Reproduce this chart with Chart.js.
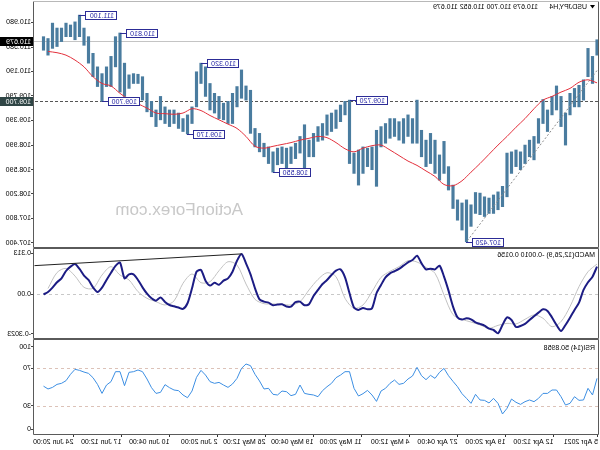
<!DOCTYPE html>
<html><head><meta charset="utf-8">
<script src="https://cdn.jsdelivr.net/npm/chart.js@4.4.1/dist/chart.umd.min.js"></script>
<style>
html,body{margin:0;padding:0;background:#fff;}
#wrap{position:relative;width:600px;height:450px;transform:scaleX(-1);overflow:hidden;background:#fff;}
#wrap canvas{position:absolute;left:0;}
</style></head><body>
<div id="wrap">
<canvas id="cPrice" width="600" height="248" style="top:0px"></canvas>
<canvas id="cMacd" width="600" height="91" style="top:248px"></canvas>
<canvas id="cRsi" width="600" height="111" style="top:339px"></canvas>
</div>
<script>
// ---------- data ----------
const symbolName = 'USDJPY,H4';
const symbolQuote = '110.679 110.700 110.652 110.679';
const macdTitle = 'MACD(12,26,9) -0.0010 0.0156';
const rsiTitle = 'RSI(14) 50.8958';
const watermarkText = 'ActionForex.com';

const timeLabels = ['5 Apr 2021','12 Apr 12:00','19 Apr 20:00','27 Apr 04:00','4 May 12:00','11 May 20:00','19 May 04:00','26 May 12:00','2 Jun 20:00','10 Jun 04:00','17 Jun 12:00','24 Jun 20:00'];
const timeTickBars = [3.34,33,65,97,129,161,193,225,257,289,321,353];

const barStart = 4, barStep = 3;   // each sample covers three 4-hour bars

const priceHigh = [110.70,110.43,110.56,110.05,109.96,109.91,109.83,109.51,109.78,109.95,
109.78,109.56,109.73,109.42,109.13,109.07,108.99,108.88,108.91,108.88,
108.86,108.32,108.23,108.18,108.13,108.15,108.21,108.22,108.02,108.10,
108.05,108.10,108.34,108.64,109.05,108.83,109.07,109.18,109.07,109.23,
109.72,109.42,109.48,109.42,109.37,109.42,109.42,109.34,109.29,109.23,
108.96,108.94,108.96,108.91,108.86,109.72,109.70,109.64,109.56,109.51,
109.48,109.34,109.29,109.18,109.07,109.32,109.13,109.02,108.96,108.94,
108.96,108.94,108.88,108.96,109.02,109.18,109.26,109.88,109.95,110.21,
109.94,109.83,109.70,109.67,109.78,109.83,109.99,110.26,110.32,110.18,
109.61,109.48,109.42,109.51,109.56,109.56,109.61,109.78,109.56,109.70,
109.83,110.10,110.14,110.15,110.13,110.32,110.81,110.75,110.43,110.26,
110.15,110.26,110.48,110.75,110.89,111.10,110.99,110.94,110.97,110.89,
110.89,110.97,110.72,110.75];
const priceLow = [110.45,109.99,110.10,109.72,109.61,109.61,109.48,108.99,109.29,109.56,
109.48,109.21,109.34,109.02,108.75,108.80,108.69,108.59,108.64,108.53,
108.15,107.99,107.94,107.88,107.88,107.83,107.86,107.88,107.67,107.42,
107.61,107.77,107.96,108.26,108.53,108.42,108.53,108.69,108.64,108.80,
109.02,109.02,109.13,109.02,109.07,109.13,109.10,109.02,108.96,108.32,
108.59,108.64,108.53,108.34,108.53,108.69,109.48,109.37,109.26,109.21,
109.15,109.07,109.05,108.80,108.80,108.61,108.86,108.77,108.69,108.59,
108.69,108.67,108.55,108.69,108.80,108.88,108.96,109.18,109.72,109.75,
109.61,109.34,109.34,109.40,109.42,109.51,109.56,109.78,109.99,109.61,
109.34,109.17,109.21,109.26,109.34,109.29,109.34,109.40,109.29,109.45,
109.53,109.72,109.99,109.99,109.91,109.78,109.85,110.26,109.94,109.94,
109.70,109.94,110.10,110.32,110.61,110.75,110.70,110.75,110.75,110.67,
110.59,110.56,110.45,110.53];
// moving average, one value every second sample
const movingAvg = [110.00,110.05,110.01,109.91,109.85,109.78,109.72,109.58,109.42,109.28,
109.13,108.99,108.84,108.69,108.55,108.41,108.33,108.35,108.48,108.57,
108.66,108.73,108.82,108.91,108.99,108.98,108.94,108.88,108.93,109.03,
109.11,109.13,109.10,109.07,109.03,109.00,108.97,108.94,108.97,109.13,
109.26,109.33,109.40,109.47,109.55,109.58,109.51,109.49,109.50,109.51,
109.59,109.66,109.73,109.83,109.95,109.99,110.10,110.26,110.37,110.45,
110.49,110.51];
const priceTicks = [110.980,110.580,110.190,109.790,109.390,108.990,108.590,108.200,107.800,107.400];
const bidPrice = 110.679;
const levelPrice = 109.700;
const swingSamples = [115,106,88,110,91,72,55,29];
const swingPrices = [111.100,110.810,110.320,109.700,109.170,108.550,109.720,107.420];
const priceTrendBars = [4,91];
const priceTrendValues = [110.20,107.42];

const macdMain = [0.191,0.122,0.083,0.030,-0.058,-0.108,-0.162,-0.212,-0.254,-0.212,
-0.160,-0.115,-0.104,-0.127,-0.152,-0.178,-0.205,-0.219,-0.226,-0.178,
-0.160,-0.212,-0.270,-0.247,-0.238,-0.217,-0.205,-0.194,-0.173,-0.166,
-0.175,-0.160,-0.085,0.025,0.122,0.198,0.172,0.177,0.172,0.214,
0.267,0.237,0.221,0.198,0.175,0.159,0.145,0.117,0.064,0.007,
-0.097,-0.104,-0.095,-0.108,-0.092,0.007,0.117,0.172,0.163,0.133,
0.099,0.071,0.030,-0.012,-0.069,-0.076,-0.051,-0.055,-0.085,-0.085,
-0.069,-0.071,-0.076,-0.058,-0.051,-0.035,0.041,0.138,0.214,0.278,
0.232,0.156,0.110,0.094,0.066,0.080,0.060,0.094,0.168,0.156,
0.041,-0.062,-0.101,-0.092,-0.083,-0.074,-0.053,-0.023,-0.044,-0.028,
0.004,0.048,0.099,0.138,0.138,0.110,0.219,0.196,0.149,0.099,
0.046,0.016,0.048,0.099,0.129,0.175,0.209,0.191,0.161,0.110,
0.083,0.046,0.016,-0.001];
// signal, one value every second sample
const macdSignal = [0.209,0.156,0.053,-0.085,-0.189,-0.224,-0.166,-0.143,-0.173,-0.205,
-0.201,-0.215,-0.235,-0.212,-0.192,-0.173,-0.141,-0.005,0.145,0.186,
0.223,0.232,0.191,0.159,0.117,0.018,-0.074,-0.097,-0.028,0.122,
0.149,0.103,0.030,-0.051,-0.074,-0.069,-0.067,-0.065,-0.035,0.071,
0.202,0.225,0.163,0.087,0.080,0.140,0.076,-0.046,-0.074,-0.051,
-0.028,0.018,0.099,0.133,0.191,0.133,0.041,0.048,0.126,0.179,
0.150,0.040];
const macdMax = 0.313, macdMin = -0.3023;
const macdAxisLabels = ['0.313','0.00','-0.3023'];
const macdTrendBars = [241,379];
const macdTrendValues = [0.279,0.198];

const rsiValues = [59.2,41.5,48.6,36.2,35.8,39.7,32.6,30.8,39.7,46.8,
46.8,43.2,43.2,37.9,34.4,36.2,34.4,31.5,33.7,37.2,
27.3,21.3,32.6,37.9,33.0,35.8,36.2,42.2,32.6,37.9,
42.9,50.3,56.0,62.0,69.8,65.6,59.2,62.4,57.8,62.0,
70.9,61.7,58.5,53.9,52.8,57.4,53.9,48.6,45.7,34.7,
41.5,46.4,42.9,40.4,48.6,66.3,66.3,62.7,59.9,53.9,
50.3,46.1,39.7,41.5,42.2,43.2,52.1,42.2,40.8,45.0,
45.7,41.5,42.2,48.6,47.9,56.4,63.5,72.7,74.5,69.8,
59.2,53.2,49.6,52.1,54.9,53.9,55.7,62.7,67.7,60.3,
45.7,38.6,41.5,46.1,46.8,49.3,52.5,44.3,43.2,49.3,
58.5,66.3,68.1,66.3,65.6,51.4,66.3,66.3,55.7,52.1,
43.2,52.8,59.9,64.5,65.9,67.7,68.8,63.5,56.7,53.9,
52.8,49.6,47.9,50.9];
const rsiLevels = [70,30];
const rsiAxisValues = [100,70,30,0];

// ---------- build ----------
const FONT = '"Liberation Sans", Arial, sans-serif';
Chart.defaults.font.family = FONT;
Chart.defaults.font.size = 7;
Chart.defaults.color = '#000';
const X_MIN = 10/3, X_MAX = 379 + 1/3;
const sampleBar = k => barStart + barStep * k;

const barData = priceHigh.map((h, k) => ({x: sampleBar(k), y: [priceLow[k], h]}));
const maData = movingAvg.map((v, j) => ({x: sampleBar(2*j), y: v}));
const pTrend = priceTrendBars.map((b, n) => ({x: b, y: priceTrendValues[n]}));
const macdMainData = macdMain.map((v, k) => ({x: sampleBar(k), y: v}));
const macdSigData = macdSignal.map((v, j) => ({x: sampleBar(2*j), y: v}));
const mTrend = macdTrendBars.map((b, n) => ({x: b, y: macdTrendValues[n]}));
const rsiData = rsiValues.map((v, k) => ({x: sampleBar(k), y: v}));

function hline(ctx, x1, x2, y, color, dash) {
  ctx.save(); ctx.strokeStyle = color; ctx.lineWidth = 1; ctx.setLineDash(dash || []);
  ctx.beginPath(); ctx.moveTo(x1, y); ctx.lineTo(x2, y); ctx.stroke(); ctx.restore();
}
function frame(ctx, a, topColor) {
  ctx.save(); ctx.lineWidth = 1;
  ctx.strokeStyle = '#5a5a5a';
  ctx.beginPath();
  ctx.moveTo(a.left - 0.5, a.top - 0.5); ctx.lineTo(a.left - 0.5, a.bottom + 0.5);
  ctx.lineTo(a.right + 0.5, a.bottom + 0.5); ctx.lineTo(a.right + 0.5, a.top - 0.5);
  ctx.stroke();
  hline(ctx, a.left - 0.5, a.right + 0.5, a.top - 0.5, topColor);
  ctx.restore();
}
function yAxis(extra) {
  return Object.assign({
    position: 'right',
    afterFit: s => { s.width = 34; s.paddingTop = 0; s.paddingBottom = 0; },
    grid: {drawOnChartArea: false, tickLength: 3, color: '#444'},
    border: {display: false}
  }, extra);
}
const yTicks = (cb, extra) => Object.assign({padding: 0, color: '#000', autoSkip: false, font: {size: 7, family: FONT}, callback: cb}, extra || {});
const baseOpts = {animation: false, responsive: false, devicePixelRatio: 1, events: [],
  plugins: {legend: {display: false}, tooltip: {enabled: false}}};

// ---------- price ----------
const pricePlugin = {
  id: 'priceDecor',
  beforeDatasetsDraw(chart) {
    const {ctx, chartArea: a, scales: {y}} = chart;
    ctx.save();
    ctx.font = '17px ' + FONT; ctx.fillStyle = '#c8c8c8';
    ctx.textBaseline = 'middle'; ctx.textAlign = 'left';
    ctx.fillText(watermarkText, 357, 210);
    ctx.restore();
    hline(ctx, a.left, a.right, Math.round(y.getPixelForValue(bidPrice)) + 0.5, '#c4c4c4');
    hline(ctx, a.left, a.right, Math.round(y.getPixelForValue(levelPrice)) + 0.5, '#555', [3, 2]);
  },
  afterDraw(chart) {
    const {ctx, chartArea: a, scales: {x, y}} = chart;
    frame(ctx, a, '#b8b8b8');
    ctx.save();
    ctx.font = '7px ' + FONT; ctx.textBaseline = 'middle'; ctx.textAlign = 'left';
    swingPrices.forEach((p, n) => {
      const bx = Math.round(x.getPixelForValue(sampleBar(swingSamples[n])));
      const py = Math.round(y.getPixelForValue(p));
      const r = bx - 6, l = r - 32;
      ctx.strokeStyle = '#2c2c96'; ctx.lineWidth = 1;
      ctx.beginPath(); ctx.moveTo(bx, py + 0.5); ctx.lineTo(r, py + 0.5); ctx.stroke();
      ctx.fillStyle = '#fff'; ctx.fillRect(l, py - 4, 32, 9);
      ctx.strokeRect(l + 0.5, py - 3.5, 31, 8);
      ctx.fillStyle = '#2626a6'; ctx.fillText(p.toFixed(3), l + 3, py + 1);
    });
    // axis tags
    [[bidPrice, '#000'], [levelPrice, '#2f4545']].forEach(([p, bg]) => {
      const py = Math.round(y.getPixelForValue(p));
      ctx.fillStyle = bg; ctx.fillRect(a.right + 1, py - 4, 33, 9);
      ctx.fillStyle = '#fff'; ctx.fillText(p.toFixed(3), a.right + 3, py + 1);
    });
    // title
    ctx.fillStyle = '#000';
    ctx.beginPath(); ctx.moveTo(5, 5); ctx.lineTo(10, 5); ctx.lineTo(7.5, 8.5); ctx.closePath(); ctx.fill();
    ctx.fillText(symbolName, 13, 7);
    ctx.fillText(symbolQuote, 62, 7);
    ctx.restore();
  }
};
new Chart(document.getElementById('cPrice'), {
  type: 'bar',
  data: {datasets: [
    {type: 'line', data: maData, borderColor: '#e3303c', borderWidth: 1, pointRadius: 0, tension: 0.3, order: 1},
    {type: 'line', data: pTrend, borderColor: '#8c8c8c', borderWidth: 1, borderDash: [2, 2], pointRadius: 0, order: 2},
    {type: 'bar', data: barData, backgroundColor: '#4a7c9f', barThickness: 2.5, grouped: false, order: 3}
  ]},
  options: Object.assign({}, baseOpts, {
    layout: {padding: {left: 2, top: 2, bottom: 1, right: 0}},
    scales: {
      x: {type: 'linear', min: X_MIN, max: X_MAX, display: false, offset: false},
      y: yAxis({min: 107.335, max: 111.313,
        afterBuildTicks: s => { s.ticks = priceTicks.map(v => ({value: v})); },
        ticks: yTicks(v => v.toFixed(3))})
    }
  }),
  plugins: [pricePlugin]
});

// ---------- MACD ----------
const macdPlugin = {
  id: 'macdDecor',
  beforeDatasetsDraw(chart) {
    const {ctx, chartArea: a, scales: {y}} = chart;
    hline(ctx, a.left, a.right, Math.round(y.getPixelForValue(0)) + 0.5, '#c8c8c8', [3, 3]);
  },
  afterDraw(chart) {
    const {ctx, chartArea: a} = chart;
    frame(ctx, a, '#5a5a5a');
    ctx.save(); ctx.font = '7px ' + FONT; ctx.fillStyle = '#000';
    ctx.textBaseline = 'middle'; ctx.textAlign = 'left';
    ctx.fillText(macdTitle, 5, 7);
    ctx.restore();
  }
};
new Chart(document.getElementById('cMacd'), {
  type: 'line',
  data: {datasets: [
    {data: mTrend, borderColor: '#222', borderWidth: 1, pointRadius: 0, order: 1},
    {data: macdMainData, borderColor: '#1c1c84', borderWidth: 2, pointRadius: 0, tension: 0.25, order: 2},
    {data: macdSigData, borderColor: '#c2c2c2', borderWidth: 1, pointRadius: 0, tension: 0.3, order: 3}
  ]},
  options: Object.assign({}, baseOpts, {
    layout: {padding: {left: 2, top: 1, bottom: 1, right: 0}},
    scales: {
      x: {type: 'linear', min: X_MIN, max: X_MAX, display: false},
      y: yAxis({min: macdMin, max: macdMax,
        afterBuildTicks: s => { const r = s.max - s.min; s.ticks = [{value: s.max - r * 0.045}, {value: 0}, {value: s.min + r * 0.045}]; },
        ticks: yTicks((v, i) => macdAxisLabels[i])})
    }
  }),
  plugins: [macdPlugin]
});

// ---------- RSI ----------
const rsiPlugin = {
  id: 'rsiDecor',
  beforeDatasetsDraw(chart) {
    const {ctx, chartArea: a, scales: {y}} = chart;
    rsiLevels.forEach(l => hline(ctx, a.left, a.right, Math.round(y.getPixelForValue(l)) + 0.5, '#dcc2b8', [3, 3]));
  },
  afterDraw(chart) {
    const {ctx, chartArea: a, scales: {y}} = chart;
    frame(ctx, a, '#5a5a5a');
    ctx.save(); ctx.font = '7px ' + FONT; ctx.fillStyle = '#000';
    ctx.textBaseline = 'middle'; ctx.textAlign = 'left';
    ctx.fillText(rsiTitle, 5, 9);
    // axis labels: the end values sit just inside the panel, as in the terminal
    rsiAxisValues.forEach((v, i) => {
      const shift = i === 0 ? 7 : (i === rsiAxisValues.length - 1 ? -5 : 0);
      ctx.fillText(String(v), a.right + 3, y.getPixelForValue(v) + shift);
    });
    ctx.restore();
  }
};
new Chart(document.getElementById('cRsi'), {
  type: 'line',
  data: {datasets: [
    {data: rsiData, borderColor: '#3d8fe3', borderWidth: 1, pointRadius: 0, tension: 0}
  ]},
  options: Object.assign({}, baseOpts, {
    layout: {padding: {left: 2, top: 1, bottom: 0, right: 0}},
    scales: {
      x: {type: 'linear', min: X_MIN, max: X_MAX, position: 'bottom',
        afterBuildTicks: s => { s.ticks = timeTickBars.map(v => ({value: v})); },
        afterFit: s => { s.height = 16; s.paddingLeft = 0; s.paddingRight = 0; },
        ticks: {autoSkip: false, maxRotation: 0, minRotation: 0, align: 'start', padding: 1,
          color: '#000', font: {size: 7, family: FONT}, callback: (v, i) => timeLabels[i]},
        grid: {drawOnChartArea: false, tickLength: 3, color: '#333'},
        border: {display: false}},
      y: yAxis({min: 0, max: 100,
        afterBuildTicks: s => { s.ticks = [{value: 92.6}, {value: 70}, {value: 30}, {value: 5.3}]; },
        ticks: yTicks(() => '', {display: false})})
    }
  }),
  plugins: [rsiPlugin]
});
</script>
</body></html>
